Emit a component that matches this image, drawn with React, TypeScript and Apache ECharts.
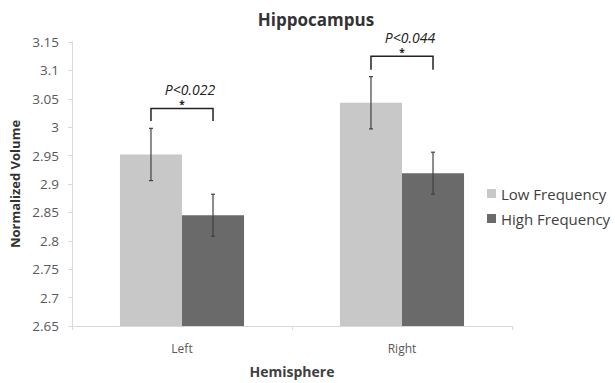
import React, { useEffect, useRef } from "react";
import * as echarts from "echarts";

const categories = ["Left", "Right"];
const lowFreq = [2.952, 3.043];
const highFreq = [2.845, 2.919];
const lowErr = [0.046, 0.046];
const highErr = [0.037, 0.037];
const bracketLevels = [3.033, 3.125];
const bracketFoot = [3.011, 3.101];
const pLabels = ["P<0.022", "P<0.044"];
const yTicks = ["2.65", "2.7", "2.75", "2.8", "2.85", "2.9", "2.95", "3", "3.05", "3.1", "3.15"];

const GAP = 0.436;
const FONT = "'Open Sans', Lato, sans-serif";

export default function App() {
  const ref = useRef<HTMLDivElement>(null);
  useEffect(() => {
    const chart = echarts.init(ref.current!, null, { renderer: "svg" });

    const errRender = (sign: number) => (params: any, api: any) => {
      const idx = api.value(0);
      const v = api.value(1);
      const e = api.value(2);
      const catW = api.size([1, 0])[0];
      const barW = (catW * (1 - GAP)) / 2;
      const x = api.coord([idx, v])[0] + (sign * barW) / 2;
      const yT = api.coord([idx, v + e])[1];
      const yB = api.coord([idx, v - e])[1];
      const style = { stroke: "#404040", lineWidth: 1.2 };
      return {
        type: "group",
        children: [
          { type: "line", shape: { x1: x, y1: yT, x2: x, y2: yB }, style },
          { type: "line", shape: { x1: x - 2, y1: yT, x2: x + 2, y2: yT }, style },
          { type: "line", shape: { x1: x - 2, y1: yB, x2: x + 2, y2: yB }, style },
        ],
      };
    };

    const bracketRender = (params: any, api: any) => {
      const idx = api.value(0);
      const top = api.value(1);
      const foot = api.value(2);
      const catW = api.size([1, 0])[0];
      const barW = (catW * (1 - GAP)) / 2;
      const cx = api.coord([idx, top])[0];
      const yT = api.coord([idx, top])[1];
      const yF = api.coord([idx, foot])[1];
      const xL = cx - barW / 2;
      const xR = cx + barW / 2;
      return {
        type: "group",
        children: [
          {
            type: "polyline",
            shape: { points: [[xL, yF], [xL, yT], [xR, yT], [xR, yF]] },
            style: { stroke: "#222", lineWidth: 1.5, fill: "none" },
          },
          {
            type: "text",
            style: {
              text: "*",
              x: cx,
              y: yT - 9,
              align: "center",
              verticalAlign: "top",
              fontSize: 10,
              fontWeight: "bold",
              fill: "#222",
              fontFamily: FONT,
            },
          },
          {
            type: "text",
            style: {
              text: pLabels[params.dataIndex],
              x: cx + 8,
              y: yT - 19,
              align: "center",
              verticalAlign: "middle",
              fontSize: 14,
              fontStyle: "italic",
              fill: "#222",
              fontFamily: FONT,
            },
          },
        ],
      };
    };

    chart.setOption({
      animation: false,
      backgroundColor: "#ffffff",
      textStyle: { fontFamily: FONT },
      title: {
        text: "Hippocampus",
        left: 311,
        textAlign: "center",
        top: 6,
        textStyle: { fontSize: 17, fontWeight: "bold", color: "#333", fontFamily: FONT },
      },
      legend: {
        data: ["Low Frequency", "High Frequency"],
        orient: "vertical",
        left: 482,
        top: 181,
        icon: "rect",
        itemWidth: 9,
        itemHeight: 9,
        itemGap: 10,
        textStyle: { fontSize: 15, color: "#404040", fontFamily: FONT },
      },
      grid: { left: 72, right: 103, top: 42, bottom: 57 },
      xAxis: {
        type: "category",
        data: categories,
        name: "Hemisphere",
        nameLocation: "middle",
        nameGap: 38,
        nameTextStyle: { fontSize: 14, fontWeight: "bold", color: "#404040" },
        axisLine: { lineStyle: { color: "#d9d9d9" } },
        axisTick: { show: true, length: 4, lineStyle: { color: "#d9d9d9" } },
        axisLabel: { margin: 16, fontSize: 12, color: "#595959" },
      },
      yAxis: {
        type: "value",
        min: 2.65,
        max: 3.15,
        interval: 0.05,
        name: "Normalized Volume",
        nameLocation: "middle",
        nameGap: 47,
        nameTextStyle: { fontSize: 13, fontWeight: "bold", color: "#333" },
        axisLine: { show: true, lineStyle: { color: "#d9d9d9" } },
        axisTick: { show: true, length: 4, lineStyle: { color: "#d9d9d9" } },
        splitLine: { show: false },
        axisLabel: {
          margin: 13,
          fontSize: 13.5,
          color: "#595959",
          formatter: (v: number) => {
            const i = Math.round((v - 2.65) / 0.05);
            return yTicks[i] ?? "";
          },
        },
      },
      series: [
        {
          name: "Low Frequency",
          type: "bar",
          data: lowFreq,
          barGap: "0%",
          barCategoryGap: GAP * 100 + "%",
          itemStyle: { color: "#c8c8c8" },
        },
        {
          name: "High Frequency",
          type: "bar",
          data: highFreq,
          itemStyle: { color: "#6a6a6a" },
        },
        {
          type: "custom",
          renderItem: errRender(-1),
          data: lowFreq.map((v, i) => [i, v, lowErr[i]]),
          z: 5,
        },
        {
          type: "custom",
          renderItem: errRender(1),
          data: highFreq.map((v, i) => [i, v, highErr[i]]),
          z: 5,
        },
        {
          type: "custom",
          renderItem: bracketRender,
          data: bracketLevels.map((v, i) => [i, v, bracketFoot[i]]),
          clip: false,
          z: 6,
        },
      ],
    });
    return () => chart.dispose();
  }, []);
  return (
    <div
      ref={ref}
      style={{ position: "fixed", left: 0, top: 0, width: 615, height: 383 }}
    />
  );
}
